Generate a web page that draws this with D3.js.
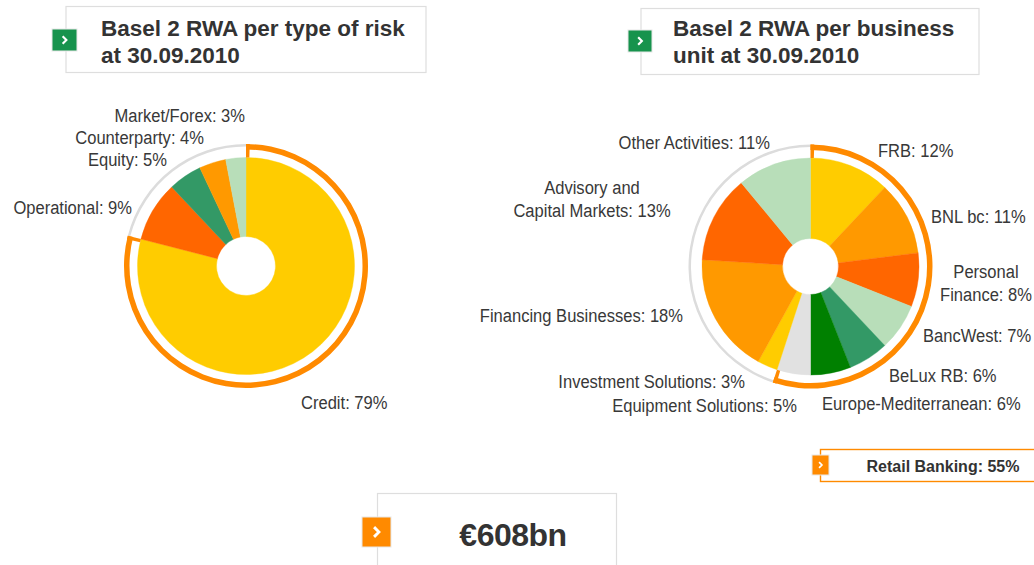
<!DOCTYPE html>
<html>
<head>
<meta charset="utf-8">
<script src="https://cdn.jsdelivr.net/npm/d3@7"></script>
<style>
  html, body { margin: 0; padding: 0; background: #fff; }
  svg { display: block; }
  .lbl { font-family: "Liberation Sans", Arial, sans-serif; font-size: 17.6px; fill: #383838; }
  .ttl { font-family: "Liberation Sans", Arial, sans-serif; font-weight: bold; font-size: 22.5px; fill: #333; }
</style>
</head>
<body>
<svg id="chart" width="1034" height="565"></svg>
<script>
// Basel 2 RWA by type of risk (%)
const riskCategories = ["Credit", "Operational", "Equity", "Counterparty", "Market/Forex"];
const riskValues = [79, 9, 5, 4, 3];

// Basel 2 RWA by business unit (%)
const unitCategories = ["FRB", "BNL bc", "Personal Finance", "BancWest", "BeLux RB",
  "Europe-Mediterranean", "Equipment Solutions", "Investment Solutions",
  "Financing Businesses", "Advisory and Capital Markets", "Other Activities"];
const unitValues = [12, 11, 8, 7, 6, 6, 5, 3, 18, 13, 11];

// Units grouped under Retail Banking
const retailUnits = ["FRB", "BNL bc", "Personal Finance", "BancWest", "BeLux RB",
  "Europe-Mediterranean", "Equipment Solutions"];
const retailTotal = 55;
const totalRWA = "€608bn";

const titles = {
  risk: ["Basel 2 RWA per type of risk", "at 30.09.2010"],
  unit: ["Basel 2 RWA per business", "unit at 30.09.2010"]
};

// colour per slice
const riskColors = ["#ffcc00", "#ff6600", "#339966", "#ff9900", "#b8deb9"];
const unitColors = ["#ffcc00", "#ff9900", "#ff6600", "#b8deb9", "#339966", "#008000",
  "#e1e1e1", "#ffcc00", "#ff9900", "#ff6600", "#b8deb9"];

// label placement: [x, y, anchor, lines]
const riskLabelLayout = {
  "Market/Forex": [245, 122, "end"],
  "Counterparty": [204, 144, "end"],
  "Equity": [167, 166, "end"],
  "Operational": [132, 214, "end"],
  "Credit": [301, 409, "start"]
};
const unitLabelLayout = {
  "Other Activities": [770, 149, "end"],
  "FRB": [878, 157, "start"],
  "Advisory and Capital Markets": [592, 194, "middle", ["Advisory and", "Capital Markets: 13%"]],
  "BNL bc": [931, 223, "start"],
  "Personal Finance": [986, 278, "middle", ["Personal", "Finance: 8%"]],
  "BancWest": [923, 342, "start"],
  "Financing Businesses": [683, 322, "end"],
  "BeLux RB": [889, 382, "start"],
  "Investment Solutions": [745, 388, "end"],
  "Equipment Solutions": [797, 412, "end"],
  "Europe-Mediterranean": [822, 410, "start"]
};

const svg = d3.select("#chart");
const ORANGE = "#ff8a00";
const LABEL_SQUEEZE = 0.94; // slightly condensed label lettering

function chevronIcon(g, x, y, w, h, fill) {
  g.append("rect").attr("x", x).attr("y", y).attr("width", w).attr("height", h)
    .attr("fill", fill).attr("stroke", "#e8e8e8").attr("stroke-width", 1);
  const cx = x + w / 2, cy = y + h / 2, s = Math.min(w, h) * 0.14;
  g.append("path")
    .attr("d", `M${cx - s * 0.6},${cy - s * 1.2} L${cx + s * 0.6},${cy} L${cx - s * 0.6},${cy + s * 1.2}`)
    .attr("fill", "none").attr("stroke", "#fff").attr("stroke-width", Math.max(1.6, s * 0.7));
}

function titleBox(box, iconBox, textX, lines) {
  const g = svg.append("g");
  g.append("rect").attr("x", box[0]).attr("y", box[1]).attr("width", box[2]).attr("height", box[3])
    .attr("fill", "#fff").attr("stroke", "#dedede").attr("stroke-width", 1.2);
  chevronIcon(g, iconBox[0], iconBox[1], iconBox[2], iconBox[3], "#17934d");
  lines.forEach((t, i) => {
    g.append("text").attr("class", "ttl").attr("x", textX).attr("y", 35.5 + i * 27.5).text(t);
  });
}

titleBox([66, 6.5, 360, 66], [52, 29, 25, 22], 101, titles.risk);
titleBox([641, 8.5, 338, 66], [628, 30, 24, 22], 673, titles.unit);

function donut(cx, cy, R, r0, cats, vals, colors, bracketCats, layout) {
  const g = svg.append("g").attr("transform", `translate(${cx},${cy})`);
  const pie = d3.pie().sort(null).value(d => d.v);
  const arcs = pie(cats.map((c, i) => ({ c, v: vals[i], col: colors[i] })));
  const arc = d3.arc().innerRadius(r0).outerRadius(R);
  g.selectAll("path.slice").data(arcs).join("path").attr("class", "slice")
    .attr("d", arc).attr("fill", d => d.data.col)
    .attr("stroke", d => d.data.col).attr("stroke-width", 0.4);

  // bracket over the highlighted group and a thin grey ring over the rest
  const sel = arcs.filter(a => bracketCats.includes(a.data.c));
  const a0 = d3.min(sel, a => a.startAngle), a1 = d3.max(sel, a => a.endAngle);
  const ringOut = R + 13.5, ringIn = R + 8;
  g.append("path").attr("fill", "#dcdcdc")
    .attr("d", d3.arc()({ innerRadius: ringOut - 2.5, outerRadius: ringOut, startAngle: a1, endAngle: a0 + 2 * Math.PI }));
  const tick = 3.6 / ringIn;
  g.append("path").attr("fill", ORANGE)
    .attr("d", d3.arc()({ innerRadius: ringIn, outerRadius: ringOut, startAngle: a0, endAngle: a1 }));
  g.append("path").attr("fill", ORANGE)
    .attr("d", d3.arc()({ innerRadius: R, outerRadius: ringOut, startAngle: a0, endAngle: a0 + tick }));
  g.append("path").attr("fill", ORANGE)
    .attr("d", d3.arc()({ innerRadius: R, outerRadius: ringOut, startAngle: a1 - tick, endAngle: a1 }));

  // labels
  arcs.forEach(a => {
    const L = layout[a.data.c];
    const lines = L[3] || [`${a.data.c}: ${a.data.v}%`];
    lines.forEach((t, i) => {
      svg.append("text").attr("class", "lbl")
        .attr("transform", `translate(${L[0]},${L[1] + i * 23}) scale(${LABEL_SQUEEZE},1)`)
        .attr("text-anchor", L[2]).text(t);
    });
  });
}

donut(246, 266, 108.5, 29.5, riskCategories, riskValues, riskColors, ["Credit"], riskLabelLayout);
donut(810.5, 266.5, 108.5, 28, unitCategories, unitValues, unitColors, retailUnits, unitLabelLayout);

// Retail Banking summary
{
  const g = svg.append("g");
  g.append("rect").attr("x", 820.5).attr("y", 449.5).attr("width", 240).attr("height", 32)
    .attr("fill", "#fff").attr("stroke", ORANGE).attr("stroke-width", 1.4);
  chevronIcon(g, 812, 455, 17, 20, ORANGE);
  g.append("text").attr("x", 943).attr("y", 471.5).attr("text-anchor", "middle")
    .attr("font-family", "Liberation Sans, Arial, sans-serif").attr("font-weight", "bold")
    .attr("font-size", 16).attr("fill", "#333").text(`Retail Banking: ${retailTotal}%`);
}

// total RWA
{
  const g = svg.append("g");
  g.append("rect").attr("x", 377.5).attr("y", 493.5).attr("width", 239).attr("height", 90)
    .attr("fill", "#fff").attr("stroke", "#dedede").attr("stroke-width", 1.2);
  chevronIcon(g, 362, 517, 29, 30, ORANGE);
  g.append("text").attr("x", 513).attr("y", 546).attr("text-anchor", "middle")
    .attr("font-family", "Liberation Sans, Arial, sans-serif").attr("font-weight", "bold")
    .attr("font-size", 32).attr("letter-spacing", -0.5).attr("fill", "#333").text(totalRWA);
}
</script>
</body>
</html>
